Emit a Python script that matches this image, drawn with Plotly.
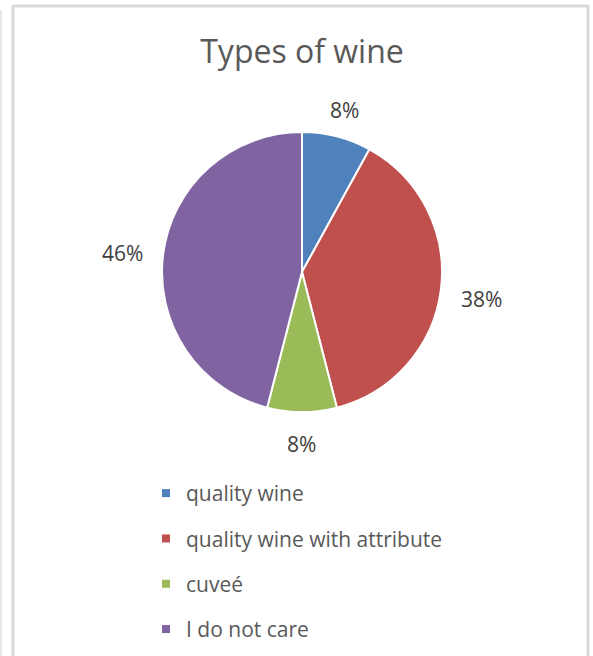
import math
import plotly.graph_objects as go

# Survey answers: preferred type of wine (percent of respondents)
categories = ["quality wine", "quality wine with attribute", "cuveé", "I do not care"]
shares = [8, 38, 8, 46]
colors = ["#4F81BD", "#C0504D", "#9BBB59", "#8064A2"]

W, H = 593, 656
FONT = "Open Sans"
LABEL_SIZE = 21

# pie geometry in pixels (centre and radius)
cx, cy, r = 302, 272, 140
dom_x = [(cx - r) / W, (cx + r) / W]
dom_y = [1 - (cy + r) / H, 1 - (cy - r) / H]

fig = go.Figure()

fig.add_trace(go.Pie(
    labels=categories,
    values=shares,
    sort=False,
    direction="clockwise",
    rotation=0,
    marker=dict(colors=colors, line=dict(color="white", width=2)),
    textinfo="none",
    hoverinfo="label+percent",
    showlegend=False,
    domain=dict(x=dom_x, y=dom_y),
))

# percentage labels outside each slice: the label box sits a fixed gap
# beyond the rim along the slice's mid-angle
total = sum(shares)
gap = 19
cum = 0
for v in shares:
    mid = (cum + v / 2) / total * 2 * math.pi
    cum += v
    text = f"{v}%"
    half_w = len(text) * 0.33 * LABEL_SIZE
    half_h = 0.45 * LABEL_SIZE
    dist = r + gap + half_w * abs(math.sin(mid)) + half_h * abs(math.cos(mid))
    lx = cx + dist * math.sin(mid)
    ly = cy - dist * math.cos(mid)
    fig.add_annotation(
        x=lx / W, y=1 - ly / H, xref="paper", yref="paper",
        text=text, showarrow=False, yshift=-4,
        font=dict(family=FONT, size=LABEL_SIZE, color="#404040"),
        xanchor="center", yanchor="middle",
    )

# legend entries with small square swatches
for name, col in zip(categories, colors):
    fig.add_trace(go.Scatter(
        x=[None], y=[None], mode="markers", name=name,
        legendgroup=name,
        marker=dict(symbol="square", size=8, color=col),
    ))

# chart-area frame
frame = "#D9D9D9"
fig.add_shape(type="line", xref="paper", yref="paper",
              x0=1 / W, x1=1 / W, y0=0, y1=1 - 10 / H,
              line=dict(color="#E6E6E6", width=2))
fig.add_shape(type="line", xref="paper", yref="paper",
              x0=13 / W, x1=13 / W, y0=0, y1=1 - 5 / H,
              line=dict(color=frame, width=3))
fig.add_shape(type="line", xref="paper", yref="paper",
              x0=12 / W, x1=589 / W, y0=1 - 6 / H, y1=1 - 6 / H,
              line=dict(color=frame, width=3))
fig.add_shape(type="line", xref="paper", yref="paper",
              x0=588 / W, x1=588 / W, y0=0, y1=1 - 5 / H,
              line=dict(color=frame, width=3))

fig.update_layout(
    width=W, height=H,
    margin=dict(l=0, r=0, t=0, b=0),
    paper_bgcolor="white",
    plot_bgcolor="white",
    title=dict(
        text="Types of wine",
        x=302 / W, xanchor="center",
        y=1 - 52 / H, yanchor="middle",
        font=dict(family=FONT, size=32, color="#595959"),
    ),
    xaxis=dict(visible=False),
    yaxis=dict(visible=False),
    legend=dict(
        x=146 / W, xanchor="left",
        y=1 - 473 / H, yanchor="top",
        font=dict(family=FONT, size=21, color="#595959"),
        tracegroupgap=15,
        bgcolor="rgba(0,0,0,0)",
    ),
)

fig.write_html("out.html")
